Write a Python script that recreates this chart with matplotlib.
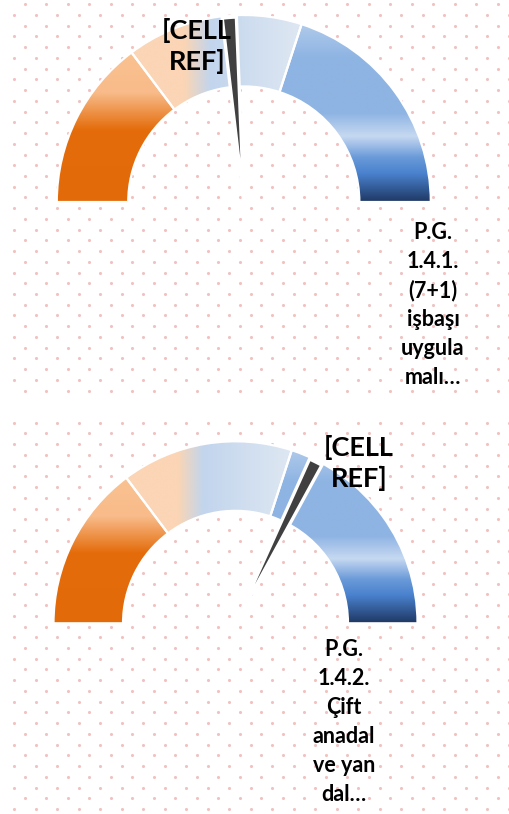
import numpy as np
import matplotlib
matplotlib.use("Agg")
import matplotlib.pyplot as plt
from matplotlib.patches import Wedge
from matplotlib.colors import LinearSegmentedColormap

W, H = 509, 814

# dial bands in percent of the half circle, left to right (same for both gauges)
band_values = [29.5, 30.5, 40.0]
# needle position in percent of the dial
needle_values = [47.5, 64.7]
cell_labels = ["[CELL\nREF]", "[CELL\nREF]"]
cat_labels = ["P.G.\n1.4.1.\n(7+1)\nişbaşı\nuygula\nmalı…",
              "P.G.\n1.4.2.\nÇift\nanadal\nve yan\ndal…"]

# layout in pixels: centre x, centre y, outer radius
gauges = [(243.8, 202.0, 187.0), (235.5, 623.3, 182.0)]
cell_pos = [(197, 46), (359, 463)]
cat_pos = [(433, 305), (344, 722)]
hole = 0.618

orange = LinearSegmentedColormap.from_list(
    "orange", [(0, "#FAC291"), (0.27, "#F8BB89"), (0.52, "#E46C0A"), (1, "#E36A09")])
peach_blue = LinearSegmentedColormap.from_list(
    "peach_blue", [(0, "#FBD5B5"), (0.34, "#FBD5B5"), (0.41, "#C2D5ED"),
                   (0.63, "#DCE6F2"), (1, "#DCE6F2")])
blue = LinearSegmentedColormap.from_list(
    "blue", [(0, "#B0CAEA"), (0.19, "#8EB4E3"), (0.5, "#8EB4E3"), (0.63, "#C6D9F1"),
             (0.75, "#6A9AD9"), (0.84, "#4A82CE"), (1, "#1F3864")])
band_fills = [(orange, True), (peach_blue, False), (blue, True)]


def band(ax, th1, th2, cmap, vertical):
    w = Wedge((0, 0), 1, th1, th2, width=1 - hole, facecolor="none", edgecolor="none")
    ax.add_patch(w)
    if vertical:
        t = np.radians(np.linspace(th1, th2, 200))
        xs = np.concatenate([np.cos(t), hole * np.cos(t)])
        ys = np.concatenate([np.sin(t), hole * np.sin(t)])
        extent = (xs.min(), xs.max(), ys.min(), ys.max())
        img = np.linspace(0, 1, 256).reshape(-1, 1)
    else:
        extent = (-1, 1, 0, 1)
        img = np.linspace(0, 1, 256).reshape(1, -1)
    im = ax.imshow(img, cmap=cmap, extent=extent, origin="upper", aspect="auto",
                   interpolation="bilinear", zorder=2)
    im.set_clip_path(w)
    ax.add_patch(Wedge((0, 0), 1, th1, th2, width=1 - hole, facecolor="none",
                       edgecolor="white", lw=1.6, zorder=3))


fig = plt.figure(figsize=(W / 100, H / 100), dpi=100)

# background with the dotted pattern (two chart areas)
bg = fig.add_axes([0, 0, 1, 1], zorder=0)
bg.set_xlim(0, W)
bg.set_ylim(H, 0)
bg.axis("off")
for y0, y1, first_off in [(4.3, 395, 25.0), (422.7, H, 14.3)]:
    rows = np.arange(y0, y1, 10.73)
    for i, yy in enumerate(rows):
        off = first_off if i % 2 == 0 else (14.3 if first_off == 25.0 else 25.0)
        xx = np.arange(off, W, 21.5)
        bg.scatter(xx, np.full_like(xx, yy), s=5, color="#F0C2C2", lw=0)

for k, (cx, cy, R) in enumerate(gauges):
    ax = fig.add_axes([0, 0, 1, 1], zorder=1 + k)
    ax.patch.set_alpha(0)
    ax.axis("off")

    edges = 180 - 1.8 * np.concatenate([[0], np.cumsum(band_values)])
    for i, (cmap, vert) in enumerate(band_fills):
        band(ax, edges[i + 1], edges[i], cmap, vert)

    a = 180 - 1.8 * needle_values[k]
    ax.add_patch(Wedge((0, 0), 0.99, a - 2.2, a + 2.2, facecolor="#404040",
                       edgecolor="white", lw=2.4, zorder=5))

    ax.set_xlim(-cx / R, (W - cx) / R)
    ax.set_ylim((cy - H) / R, cy / R)

    fig.text(cell_pos[k][0] / W, 1 - cell_pos[k][1] / H, cell_labels[k],
             ha="center", va="center", fontsize=19.5, fontweight="bold",
             family="Lato", linespacing=1.28, color="black", zorder=10)
    fig.text(cat_pos[k][0] / W, 1 - cat_pos[k][1] / H, cat_labels[k],
             ha="center", va="center", fontsize=15.5, fontweight="bold",
             family="Lato", linespacing=1.46, color="black", zorder=10)

fig.savefig("out.png", dpi=100)
